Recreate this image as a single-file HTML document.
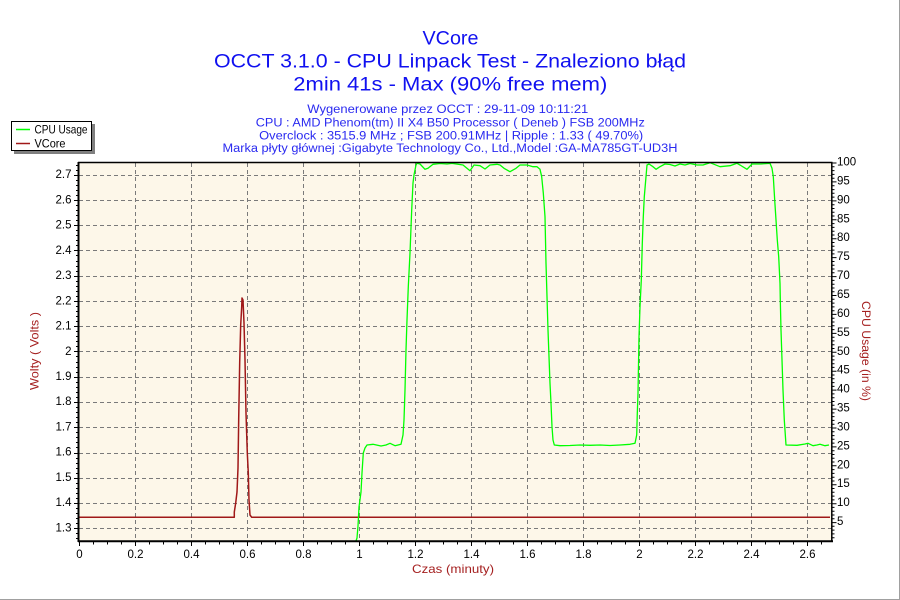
<!DOCTYPE html>
<html><head><meta charset="utf-8"><style>
html,body{margin:0;padding:0;background:#fff;}
svg{display:block;}
text{font-family:"Liberation Sans","DejaVu Sans",sans-serif;}
</style></head><body>
<svg width="900" height="600" viewBox="0 0 900 600" xmlns="http://www.w3.org/2000/svg">
<rect x="0" y="0" width="900" height="600" fill="#fff"/>
<line x1="899.5" y1="0" x2="899.5" y2="600" stroke="#a0a0a0" stroke-width="1"/>
<line x1="0" y1="599.5" x2="900" y2="599.5" stroke="#a0a0a0" stroke-width="1"/>

<!-- Titles -->
<g fill="#1010f0" text-anchor="middle" dominant-baseline="central">
<text x="450.5" y="39" font-size="19" textLength="56" lengthAdjust="spacingAndGlyphs">VCore</text>
<text x="450" y="62" font-size="19" textLength="472" lengthAdjust="spacingAndGlyphs">OCCT 3.1.0 - CPU Linpack Test - Znaleziono błąd</text>
<text x="450.3" y="85" font-size="19" textLength="314" lengthAdjust="spacingAndGlyphs">2min 41s - Max (90% free mem)</text>
</g>
<g fill="#2a2af0" text-anchor="middle" dominant-baseline="central" font-size="11.5">
<text x="447.8" y="110" textLength="281" lengthAdjust="spacingAndGlyphs">Wygenerowane przez OCCT : 29-11-09 10:11:21</text>
<text x="450.3" y="123.3" textLength="389" lengthAdjust="spacingAndGlyphs">CPU : AMD Phenom(tm) II X4 B50 Processor ( Deneb ) FSB 200MHz</text>
<text x="451.2" y="136.7" textLength="384" lengthAdjust="spacingAndGlyphs">Overclock : 3515.9 MHz ; FSB 200.91MHz | Ripple : 1.33 ( 49.70%)</text>
<text x="450" y="149" textLength="455" lengthAdjust="spacingAndGlyphs">Marka płyty głównej :Gigabyte Technology Co., Ltd.,Model :GA-MA785GT-UD3H</text>
</g>

<!-- Legend -->
<rect x="14" y="124" width="81" height="30" fill="#808080"/>
<rect x="11.5" y="121.5" width="80" height="29" fill="#fff" stroke="#000" stroke-width="1"/>
<line x1="16" y1="129.5" x2="30" y2="129.5" stroke="#00ff00" stroke-width="1.5"/>
<line x1="16" y1="143.5" x2="30" y2="143.5" stroke="#a01818" stroke-width="1.5"/>
<g fill="#000" font-size="12" dominant-baseline="central">
<text x="34.5" y="129.3" textLength="53" lengthAdjust="spacingAndGlyphs">CPU Usage</text>
<text x="34.5" y="143.3" textLength="31" lengthAdjust="spacingAndGlyphs">VCore</text>
</g>

<!-- Plot background -->
<rect x="79" y="162.5" width="753" height="378.5" fill="#fdf7e9"/>

<!-- Grid -->
<g stroke="#7a7a7a" stroke-width="1" stroke-dasharray="4,3" fill="none">
<line x1="79" y1="528.5" x2="832" y2="528.5"/>
<line x1="79" y1="503.5" x2="832" y2="503.5"/>
<line x1="79" y1="478.5" x2="832" y2="478.5"/>
<line x1="79" y1="453.5" x2="832" y2="453.5"/>
<line x1="79" y1="427.5" x2="832" y2="427.5"/>
<line x1="79" y1="402.5" x2="832" y2="402.5"/>
<line x1="79" y1="377.5" x2="832" y2="377.5"/>
<line x1="79" y1="351.5" x2="832" y2="351.5"/>
<line x1="79" y1="326.5" x2="832" y2="326.5"/>
<line x1="79" y1="301.5" x2="832" y2="301.5"/>
<line x1="79" y1="276.5" x2="832" y2="276.5"/>
<line x1="79" y1="250.5" x2="832" y2="250.5"/>
<line x1="79" y1="225.5" x2="832" y2="225.5"/>
<line x1="79" y1="200.5" x2="832" y2="200.5"/>
<line x1="79" y1="175.5" x2="832" y2="175.5"/>
<line x1="135.5" y1="163" x2="135.5" y2="541"/>
<line x1="191.5" y1="163" x2="191.5" y2="541"/>
<line x1="247.5" y1="163" x2="247.5" y2="541"/>
<line x1="303.5" y1="163" x2="303.5" y2="541"/>
<line x1="359.5" y1="163" x2="359.5" y2="541"/>
<line x1="415.5" y1="163" x2="415.5" y2="541"/>
<line x1="471.5" y1="163" x2="471.5" y2="541"/>
<line x1="527.5" y1="163" x2="527.5" y2="541"/>
<line x1="583.5" y1="163" x2="583.5" y2="541"/>
<line x1="639.5" y1="163" x2="639.5" y2="541"/>
<line x1="695.5" y1="163" x2="695.5" y2="541"/>
<line x1="751.5" y1="163" x2="751.5" y2="541"/>
<line x1="807.5" y1="163" x2="807.5" y2="541"/>
</g>

<!-- Series -->
<polyline fill="none" stroke="#a01818" stroke-width="1.5" stroke-linejoin="round" points="79,517.3 234.3,517.3 234.3,512 235.7,503 237,492 238,468 238.7,419 239.7,362 240.7,325 241.7,307 242,298 243,300 244,323 245,360 246,413 247.3,453 248.3,473 249,500 250,515 251.7,517.3 830,517.3"/>
<polyline fill="none" stroke="#00ff00" stroke-width="1.3" stroke-linejoin="round" points="356,541 357,538 358,526 359,507 361,492 362,473 363.3,453 365,448 367,445 373,444.3 381,446 386,445 390,443.3 395,445.7 401,444.3 403,435 404,420 405,390 406,350 407,320 408.3,286.7 410,253 411.7,210 413,183 414,175 416,165 417,163.3 420,164 425,169.3 428,168.3 433,164.3 440,163.5 447,164 452,163.3 463,165 470,170.7 474,165 480,165.7 485,169 490,165 497,164.3 500,165 504,168.3 510,171.7 516,168.3 520,165 527,165 533,166.7 537,166.7 540,169.3 541.7,176.7 542.3,183 543.3,193 545,216.7 546,263.3 547,296.7 548,330 549,356.7 550,383.3 551,403.3 552,426.7 553,440 554.3,445 560,445.7 570,445.5 580,445 590,445.3 600,445 610,445.5 620,445 630,444.3 635,443.3 636.7,435 637.3,413.3 638,393.3 639,336.7 640,306.7 641.3,280 642.3,243.3 643.3,216.7 644.3,196.7 646,176.7 647,165 649,164 653,166.7 656,169.3 660,166.7 665,164 670,164.5 675,166 680,164 685,165 690,163.5 697,165 703,165 710,162.7 720,166.7 730,165.7 737,163.3 740,165 747,169.3 752,164 760,164 770,163.3 772,168.3 773.3,176.7 774.7,200 776,220 777.3,240 778.7,256.7 780,283.3 780.3,300 781,330 782,360 783,390 784.3,420 786,445 797,445.3 805,444 808,443.3 813,445.7 817,445 820,444.3 825,445.7 829,445"/>

<!-- Axes frame -->
<line x1="78.5" y1="162" x2="78.5" y2="542" stroke="#000" stroke-width="2"/>
<line x1="78" y1="541.2" x2="833" y2="541.2" stroke="#000" stroke-width="2"/>
<line x1="78" y1="162.5" x2="832.5" y2="162.5" stroke="#000" stroke-width="1.5"/>
<line x1="831.8" y1="162" x2="831.8" y2="542" stroke="#000" stroke-width="1.5"/>

<!-- Left ticks -->
<g stroke="#000" stroke-width="1">
<path d="M74,528.5H78M74,503.5H78M74,478.5H78M74,453.5H78M74,427.5H78M74,402.5H78M74,377.5H78M74,351.5H78M74,326.5H78M74,301.5H78M74,276.5H78M74,250.5H78M74,225.5H78M74,200.5H78M74,175.5H78"/>
<path d="M76,538.5H78M76,533.5H78M76,523.5H78M76,518.5H78M76,513.5H78M76,508.5H78M76,498.5H78M76,493.5H78M76,488.5H78M76,483.5H78M76,473.5H78M76,468.5H78M76,463.5H78M76,458.5H78M76,447.5H78M76,442.5H78M76,437.5H78M76,432.5H78M76,422.5H78M76,417.5H78M76,412.5H78M76,407.5H78M76,397.5H78M76,392.5H78M76,387.5H78M76,382.5H78M76,372.5H78M76,367.5H78M76,362.5H78M76,356.5H78M76,346.5H78M76,341.5H78M76,336.5H78M76,331.5H78M76,321.5H78M76,316.5H78M76,311.5H78M76,306.5H78M76,296.5H78M76,291.5H78M76,286.5H78M76,281.5H78M76,271.5H78M76,266.5H78M76,261.5H78M76,255.5H78M76,245.5H78M76,240.5H78M76,235.5H78M76,230.5H78M76,220.5H78M76,215.5H78M76,210.5H78M76,205.5H78M76,195.5H78M76,190.5H78M76,185.5H78M76,180.5H78M76,170.5H78M76,165.5H78"/>
</g>
<!-- Bottom ticks -->
<g stroke="#000" stroke-width="1">
<path d="M79.5,541V546M93.5,541V544.5M107.5,541V544.5M121.5,541V544.5M135.5,541V546M149.5,541V544.5M163.5,541V544.5M177.5,541V544.5M191.5,541V546M205.5,541V544.5M219.5,541V544.5M233.5,541V544.5M247.5,541V546M261.5,541V544.5M275.5,541V544.5M289.5,541V544.5M303.5,541V546M317.5,541V544.5M331.5,541V544.5M345.5,541V544.5M359.5,541V546M373.5,541V544.5M387.5,541V544.5M401.5,541V544.5M415.5,541V546M429.5,541V544.5M443.5,541V544.5M457.5,541V544.5M471.5,541V546M485.5,541V544.5M499.5,541V544.5M513.5,541V544.5M527.5,541V546M541.5,541V544.5M555.5,541V544.5M569.5,541V544.5M583.5,541V546M597.5,541V544.5M611.5,541V544.5M625.5,541V544.5M639.5,541V546M653.5,541V544.5M667.5,541V544.5M681.5,541V544.5M695.5,541V546M709.5,541V544.5M723.5,541V544.5M737.5,541V544.5M751.5,541V546M765.5,541V544.5M779.5,541V544.5M793.5,541V544.5M807.5,541V546M821.5,541V544.5"/>
</g>
<!-- Right ticks -->
<g stroke="#000" stroke-width="1">
<path d="M832,522.6H836.5M832,503.7H836.5M832,484.8H836.5M832,465.8H836.5M832,446.9H836.5M832,428H836.5M832,409.1H836.5M832,390.1H836.5M832,371.2H836.5M832,352.3H836.5M832,333.4H836.5M832,314.4H836.5M832,295.5H836.5M832,276.6H836.5M832,257.6H836.5M832,238.7H836.5M832,219.8H836.5M832,200.9H836.5M832,181.9H836.5M832,163H836.5"/>
<path d="M832,537.7H834.5M832,533.9H834.5M832,530.1H834.5M832,526.3H834.5M832,518.8H834.5M832,515H834.5M832,511.2H834.5M832,507.4H834.5M832,499.9H834.5M832,496.1H834.5M832,492.3H834.5M832,488.5H834.5M832,481H834.5M832,477.2H834.5M832,473.4H834.5M832,469.6H834.5M832,462H834.5M832,458.3H834.5M832,454.5H834.5M832,450.7H834.5M832,443.1H834.5M832,439.3H834.5M832,435.6H834.5M832,431.8H834.5M832,424.2H834.5M832,420.4H834.5M832,416.6H834.5M832,412.9H834.5M832,405.3H834.5M832,401.5H834.5M832,397.7H834.5M832,393.9H834.5M832,386.4H834.5M832,382.6H834.5M832,378.8H834.5M832,375H834.5M832,367.4H834.5M832,363.7H834.5M832,359.9H834.5M832,356.1H834.5M832,348.5H834.5M832,344.7H834.5M832,340.9H834.5M832,337.2H834.5M832,329.6H834.5M832,325.8H834.5M832,322H834.5M832,318.2H834.5M832,310.7H834.5M832,306.9H834.5M832,303.1H834.5M832,299.3H834.5M832,291.7H834.5M832,288H834.5M832,284.2H834.5M832,280.4H834.5M832,272.8H834.5M832,269H834.5M832,265.3H834.5M832,261.5H834.5M832,253.9H834.5M832,250.1H834.5M832,246.3H834.5M832,242.5H834.5M832,235H834.5M832,231.2H834.5M832,227.4H834.5M832,223.6H834.5M832,216H834.5M832,212.3H834.5M832,208.5H834.5M832,204.7H834.5M832,197.1H834.5M832,193.3H834.5M832,189.6H834.5M832,185.8H834.5M832,178.2H834.5M832,174.4H834.5M832,170.6H834.5M832,166.8H834.5"/>
</g>

<!-- Left tick labels -->
<g fill="#000" font-size="11.5" text-anchor="end" dominant-baseline="central">
<text x="71.5" y="528.4">1.3</text>
<text x="71.5" y="503.2">1.4</text>
<text x="71.5" y="477.9">1.5</text>
<text x="71.5" y="452.7">1.6</text>
<text x="71.5" y="427.5">1.7</text>
<text x="71.5" y="402.2">1.8</text>
<text x="71.5" y="377">1.9</text>
<text x="71.5" y="351.8">2</text>
<text x="71.5" y="326.5">2.1</text>
<text x="71.5" y="301.3">2.2</text>
<text x="71.5" y="276">2.3</text>
<text x="71.5" y="250.8">2.4</text>
<text x="71.5" y="225.6">2.5</text>
<text x="71.5" y="200.4">2.6</text>
<text x="71.5" y="175.1">2.7</text>
</g>
<!-- Right tick labels -->
<g fill="#000" font-size="11.5" text-anchor="start" dominant-baseline="central">
<text x="837" y="522.1">5</text>
<text x="837" y="503.2">10</text>
<text x="837" y="484.2">15</text>
<text x="837" y="465.3">20</text>
<text x="837" y="446.4">25</text>
<text x="837" y="427.5">30</text>
<text x="837" y="408.5">35</text>
<text x="837" y="389.6">40</text>
<text x="837" y="370.7">45</text>
<text x="837" y="351.8">50</text>
<text x="837" y="332.8">55</text>
<text x="837" y="313.9">60</text>
<text x="837" y="295">65</text>
<text x="837" y="276">70</text>
<text x="837" y="257.1">75</text>
<text x="837" y="238.2">80</text>
<text x="837" y="219.3">85</text>
<text x="837" y="200.3">90</text>
<text x="837" y="181.4">95</text>
<text x="837" y="162.5">100</text>
</g>
<!-- Bottom tick labels -->
<g fill="#000" font-size="11.5" text-anchor="middle" dominant-baseline="central">
<text x="79.5" y="555">0</text>
<text x="135.5" y="555">0.2</text>
<text x="191.5" y="555">0.4</text>
<text x="247.5" y="555">0.6</text>
<text x="303.5" y="555">0.8</text>
<text x="359.5" y="555">1</text>
<text x="415.5" y="555">1.2</text>
<text x="471.5" y="555">1.4</text>
<text x="527.5" y="555">1.6</text>
<text x="583.5" y="555">1.8</text>
<text x="639.5" y="555">2</text>
<text x="695.5" y="555">2.2</text>
<text x="751.5" y="555">2.4</text>
<text x="807.5" y="555">2.6</text>
</g>

<!-- Axis titles -->
<g fill="#a52020" font-size="12" text-anchor="middle" dominant-baseline="central">
<text x="453" y="569" textLength="82" lengthAdjust="spacingAndGlyphs">Czas (minuty)</text>
<text transform="translate(34.5,351) rotate(-90)" x="0" y="0" textLength="78" lengthAdjust="spacingAndGlyphs">Wolty ( Volts )</text>
<text transform="translate(866,351) rotate(90)" x="0" y="0" textLength="100" lengthAdjust="spacingAndGlyphs">CPU Usage (in %)</text>
</g>
</svg>
</body></html>
